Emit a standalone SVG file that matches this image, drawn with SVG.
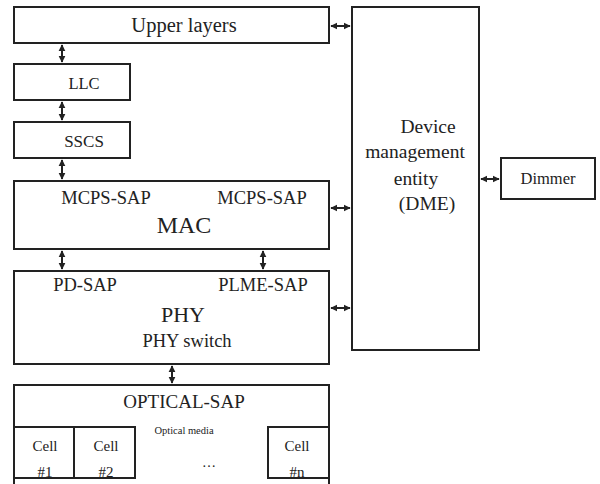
<svg xmlns="http://www.w3.org/2000/svg" width="600" height="484" viewBox="0 0 600 484">
<style>
.b{fill:#fff;stroke:#222;stroke-width:2}
.c{fill:none;stroke:#222;stroke-width:2}
text{font-family:"Liberation Serif","Times New Roman",serif;fill:#222;text-anchor:middle}
.a{stroke:#222;stroke-width:2;fill:none;marker-start:url(#h);marker-end:url(#h)}
</style>
<defs>
<marker id="h" viewBox="0 0 10 10" refX="9" refY="5" markerWidth="3.4" markerHeight="3.8" orient="auto-start-reverse" markerUnits="strokeWidth">
<path d="M0,0L10,5L0,10Z" fill="#222"/>
</marker>
</defs>
<g id="upper"><rect class="b" x="14" y="7" width="315" height="36"/><text x="184" y="32" font-size="20.5">Upper layers</text></g>
<g id="llc"><rect class="b" x="14" y="64" width="116" height="36"/><text x="84" y="89" font-size="16.5">LLC</text></g>
<g id="sscs"><rect class="b" x="14" y="122" width="116" height="36"/><text x="84" y="147" font-size="17">SSCS</text></g>
<g id="mac"><rect class="b" x="14" y="181" width="315" height="68"/>
<text x="106" y="204" font-size="18.5">MCPS-SAP</text><text x="262" y="204" font-size="18.5">MCPS-SAP</text>
<text x="184" y="233" font-size="24">MAC</text></g>
<g id="phy"><rect class="b" x="14" y="271" width="315" height="93"/>
<text x="85" y="291" font-size="18.5">PD-SAP</text><text x="263" y="291" font-size="18.5">PLME-SAP</text>
<text x="183" y="322" font-size="22">PHY</text><text x="187" y="347" font-size="18.5">PHY switch</text></g>
<g id="optical"><path class="c" d="M14,486V385H329V486"/>
<text x="184" y="408" font-size="19">OPTICAL-SAP</text>
<text x="184" y="434" font-size="10.5">Optical media</text>
<text x="209" y="467" font-size="14">…</text></g>
<g id="cell1"><path class="c" d="M14,427H74V478H14"/><text x="45" y="451" font-size="15">Cell</text><text x="45" y="477" font-size="15">#1</text></g>
<g id="cell2"><rect class="c" x="74" y="427" width="61" height="51"/><text x="106" y="451" font-size="15">Cell</text><text x="106" y="477" font-size="15">#2</text></g>
<g id="celln"><path class="c" d="M329,427H268V478H329"/><text x="297" y="451" font-size="15">Cell</text><text x="297" y="477" font-size="15">#n</text></g>
<g id="dme"><rect class="b" x="352" y="7" width="127" height="343"/>
<text x="428" y="133" font-size="19.5">Device</text>
<text x="415" y="158" font-size="19.5">management</text>
<text x="416" y="185" font-size="19.5">entity</text>
<text x="427" y="210" font-size="19.5">(DME)</text></g>
<g id="dimmer"><rect class="b" x="501" y="158" width="94" height="41"/><text x="548" y="184" font-size="16.5">Dimmer</text></g>
<g id="connectors">
<line class="a" x1="62" y1="45" x2="62" y2="62"/>
<line class="a" x1="62" y1="102" x2="62" y2="120"/>
<line class="a" x1="62" y1="160" x2="62" y2="179"/>
<line class="a" x1="62" y1="251" x2="62" y2="269"/>
<line class="a" x1="263" y1="251" x2="263" y2="269"/>
<line class="a" x1="172" y1="366" x2="172" y2="383"/>
<line class="a" x1="331" y1="26" x2="350" y2="26"/>
<line class="a" x1="331" y1="208" x2="350" y2="208"/>
<line class="a" x1="331" y1="308" x2="350" y2="308"/>
<line class="a" x1="481" y1="179" x2="499" y2="179"/>
</g>
</svg>
